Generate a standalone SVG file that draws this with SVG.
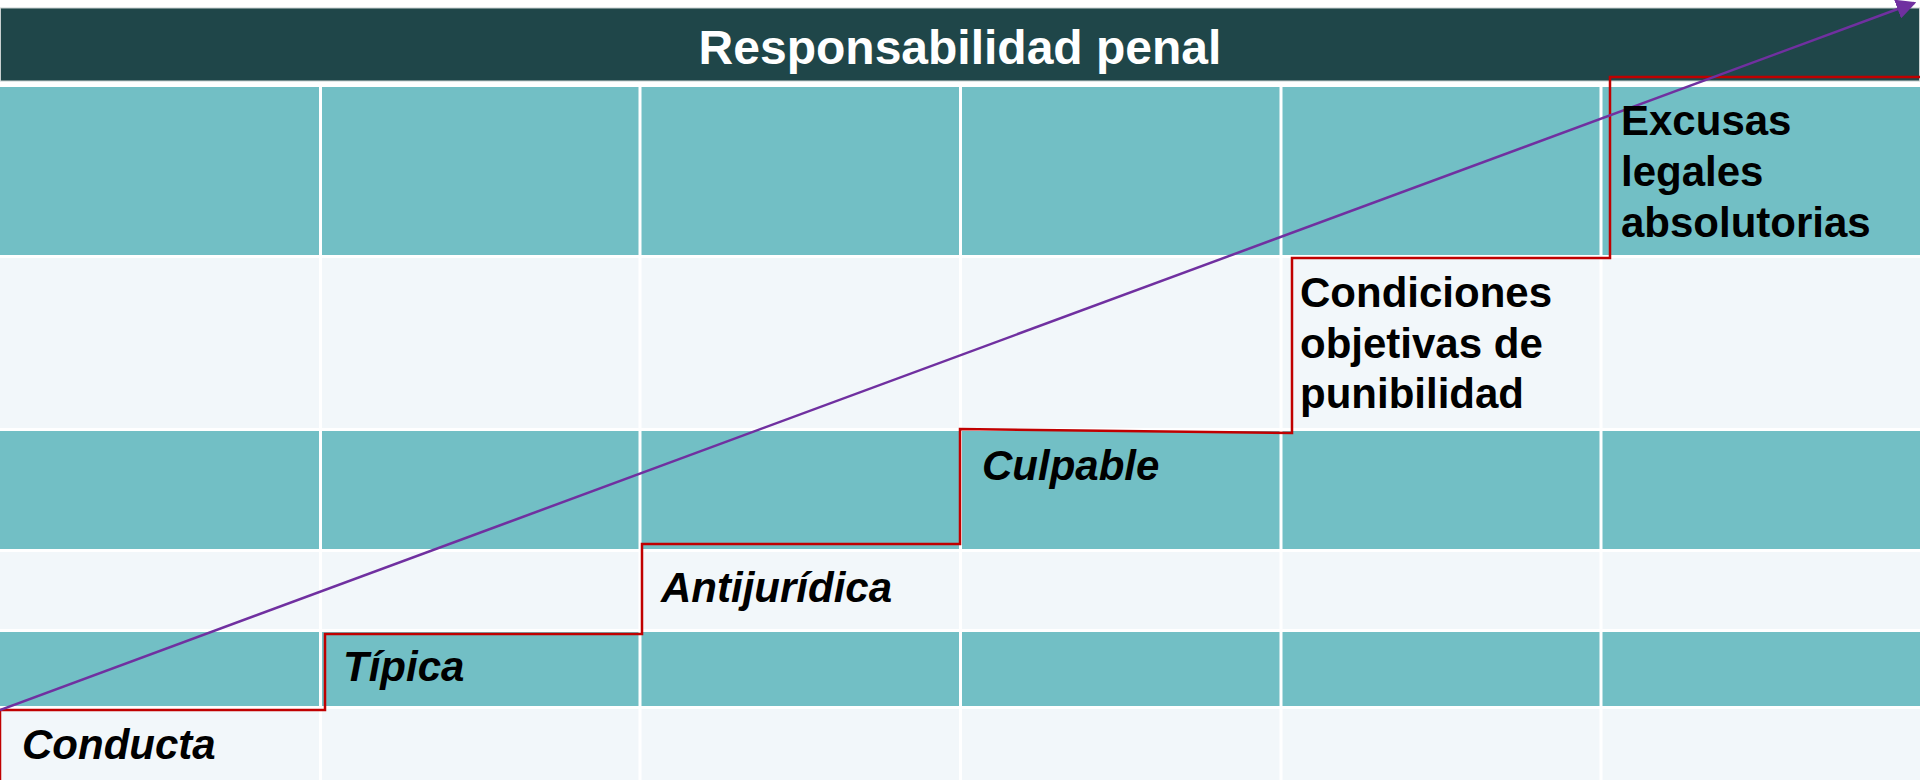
<svg xmlns="http://www.w3.org/2000/svg" width="1920" height="780" viewBox="0 0 1920 780">
<defs>
<style>
.teal{fill:#72BFC5}
.light{fill:#F2F7FA}
.sep{stroke:#FFFFFF;stroke-width:3}
.lbl{font-family:"Liberation Sans",Arial,sans-serif;font-weight:bold;font-size:42px;fill:#000}
.it{font-style:italic}
.step{fill:none;stroke:#C00000;stroke-width:2.5}
.trend{fill:none;stroke:#7030A0;stroke-width:2.5}
</style>
<marker id="arr" markerWidth="8" markerHeight="8" refX="7" refY="4" orient="auto" markerUnits="strokeWidth">
<path d="M0,0 L8,4 L0,8 Z" fill="#7030A0"/>
</marker>
</defs>
<rect x="0" y="0" width="1920" height="780" fill="#FFFFFF"/>
<g id="header">
<rect x="0.5" y="8" width="1919" height="73" fill="#1F4649" stroke="#C8D0D0" stroke-width="1"/>
<text x="960" y="64" text-anchor="middle" font-family="Liberation Sans, Arial, sans-serif" font-weight="bold" font-size="48" fill="#FFFFFF">Responsabilidad penal</text>
</g>
<g id="grid">
<rect class="teal" x="0" y="87" width="1920" height="168"/>
<rect class="light" x="0" y="258" width="1920" height="170"/>
<rect class="teal" x="0" y="431" width="1920" height="118"/>
<rect class="light" x="0" y="552" width="1920" height="77"/>
<rect class="teal" x="0" y="632" width="1920" height="74"/>
<rect class="light" x="0" y="709" width="1920" height="71"/>
<line class="sep" x1="320.5" y1="84" x2="320.5" y2="780"/>
<line class="sep" x1="640" y1="84" x2="640" y2="780"/>
<line class="sep" x1="960.5" y1="84" x2="960.5" y2="780"/>
<line class="sep" x1="1281" y1="84" x2="1281" y2="780"/>
<line class="sep" x1="1601" y1="84" x2="1601" y2="780"/>
</g>
<g id="connectors">
<polyline class="step" points="0,780 0,710 325,710 325,634 642,634 642,544 960,544 960,429 1292,433 1292,258 1610,258 1610,77 1920,77"/>
<line class="trend" x1="0" y1="710" x2="1914" y2="3" marker-end="url(#arr)"/>
</g>
<g id="conducta"><text class="lbl it" x="22" y="759">Conducta</text></g>
<g id="tipica"><text class="lbl it" x="343" y="681">Típica</text></g>
<g id="antijuridica"><text class="lbl it" x="661" y="602">Antijurídica</text></g>
<g id="culpable"><text class="lbl it" x="982" y="480">Culpable</text></g>
<g id="condiciones">
<text class="lbl" x="1300" y="307">Condiciones</text>
<text class="lbl" x="1300" y="358">objetivas de</text>
<text class="lbl" x="1300" y="408">punibilidad</text>
</g>
<g id="excusas">
<text class="lbl" x="1621" y="135">Excusas</text>
<text class="lbl" x="1621" y="186">legales</text>
<text class="lbl" x="1621" y="237">absolutorias</text>
</g>
</svg>
